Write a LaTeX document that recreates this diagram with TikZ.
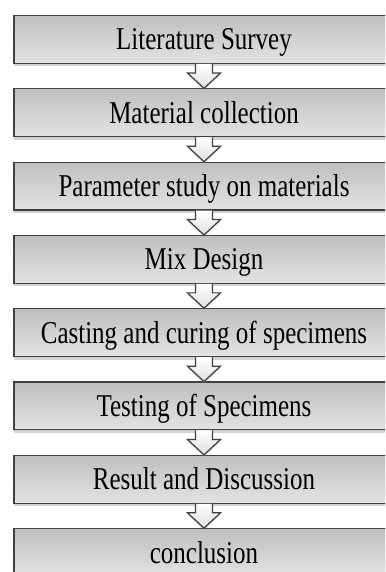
\documentclass[tikz,border=0pt]{standalone}
\usepackage{fontspec}
\setmainfont{Liberation Serif}
\usetikzlibrary{positioning,shadows}

\newcommand{\tall}[1]{\scalebox{1}[1.27]{#1}}

\tikzset{
  stage/.style={draw=black!75, line width=1.2pt, top color=gray!50, bottom color=gray!22,
    minimum width=380pt, minimum height=47.8pt, inner sep=0pt,
    text height=21pt, text depth=0pt, font=\fontsize{25}{30}\selectfont,
    drop shadow={shadow xshift=0pt, shadow yshift=-3pt, opacity=0.35}},
  hollow/.style={draw=black!75, line width=1.2pt, top color=white, bottom color=gray!25,
    drop shadow={shadow xshift=0pt, shadow yshift=-2pt, opacity=0.3}}
}

\begin{document}
\begin{tikzpicture}[x=1pt, y=1pt, node distance=24.3pt]
\useasboundingbox (0,0) rectangle (385,572);
\clip (0,0) rectangle (385,572);
\node[stage] (lit) at (204,532.5) {\tall{Literature Survey}};
\node[stage, below=of lit] (mat) {\tall{Material collection}};
\node[stage, below=of mat] (par) {\tall{Parameter study on materials}};
\node[stage, below=of par] (mix) {\tall{Mix Design}};
\node[stage, below=of mix] (cast) {\tall{Casting and curing of specimens}};
\node[stage, below=of cast] (test) {\tall{Testing of Specimens}};
\node[stage, below=of test] (res) {\tall{Result and Discussion}};
\node[stage, below=of res] (concl) {\tall{conclusion}};
% hollow arrows between the stages
\foreach \a/\b in {lit/mat, mat/par, par/mix, mix/cast, cast/test, test/res, res/concl}
  \draw[hollow] ([xshift=-8.5pt]\a.south) -- ++(0,-9) -- ++(-8,0) -- (\b.north)
    -- ++(16.5,15.3) -- ++(-8,0) -- ([xshift=8.5pt]\a.south);
\end{tikzpicture}
\end{document}
